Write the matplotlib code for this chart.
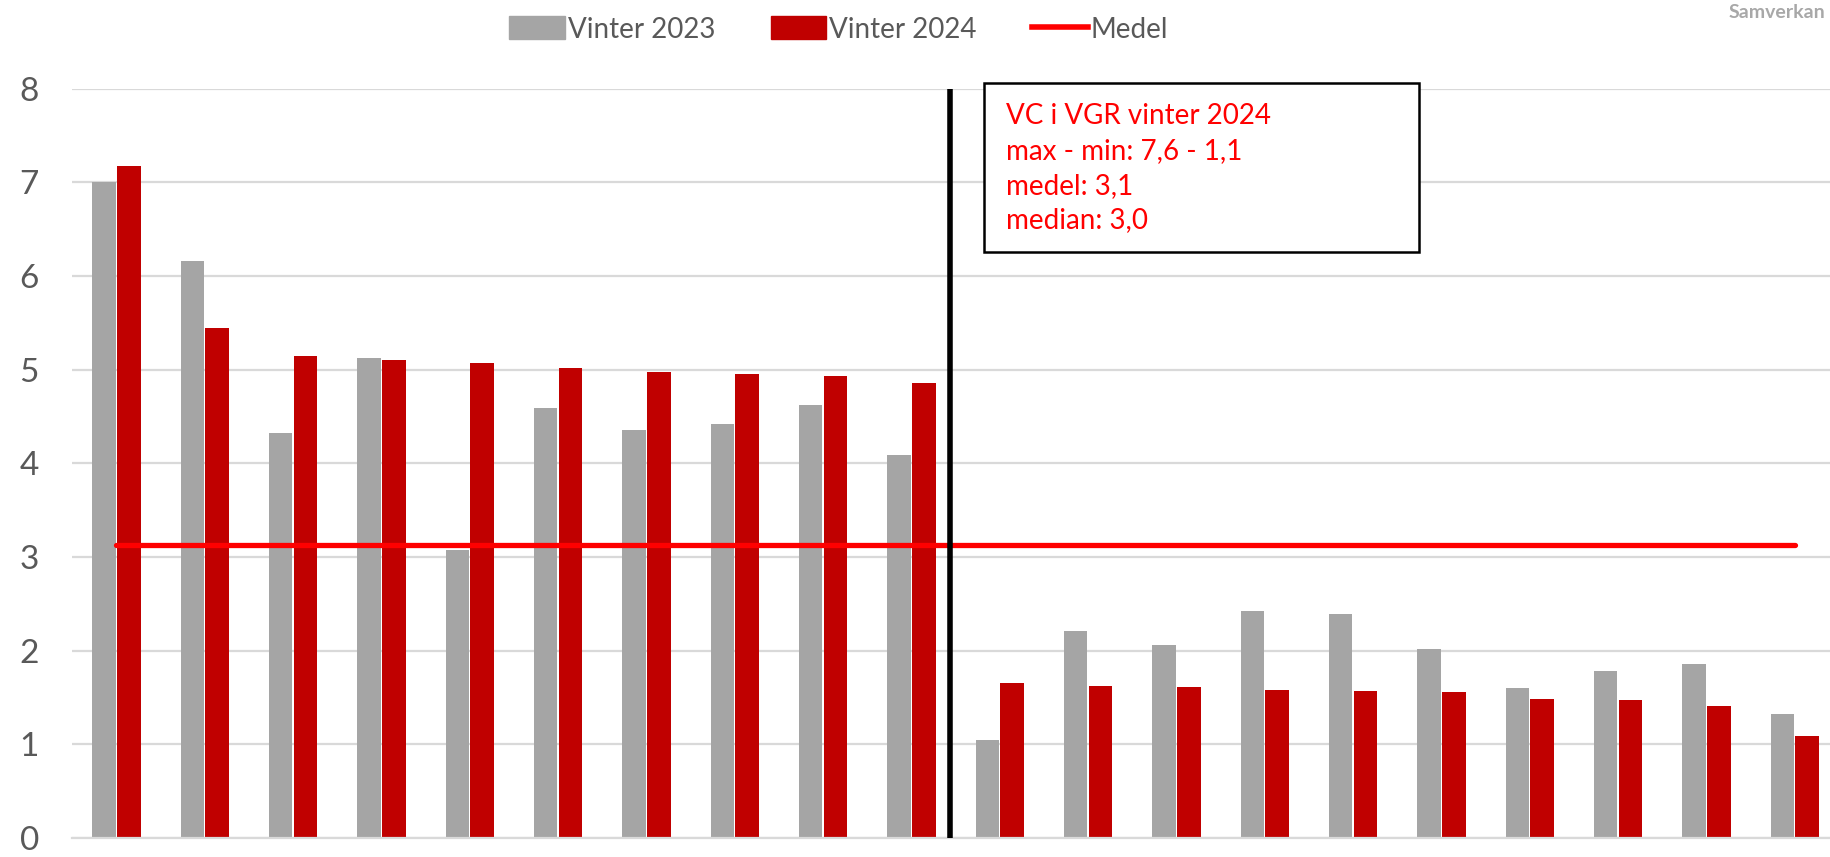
import numpy as np
import matplotlib.pyplot as plt
from matplotlib.patches import Patch, Rectangle
from matplotlib.lines import Line2D

plt.rcParams['font.family'] = ['Lato', 'DejaVu Sans']

vinter_2023 = [7.00, 6.16, 4.32, 5.13, 3.08, 4.59, 4.36, 4.42, 4.62, 4.09,
               1.05, 2.21, 2.06, 2.42, 2.39, 2.02, 1.60, 1.78, 1.86, 1.33]
vinter_2024 = [7.18, 5.45, 5.15, 5.10, 5.07, 5.02, 4.98, 4.95, 4.93, 4.86,
               1.66, 1.62, 1.61, 1.58, 1.57, 1.56, 1.48, 1.47, 1.41, 1.09]
medel = [3.13] * 20
split_pos = 9.44
box_lines = ['VC i VGR vinter 2024', 'max - min: 7,6 - 1,1', 'medel: 3,1', 'median: 3,0']

GRAY = '#a5a5a5'
RED = '#c00000'
LINE = '#ff0000'
TXT = '#595959'

x = np.arange(len(vinter_2023))
w = 0.265

fig = plt.figure(figsize=(18.31, 8.57), dpi=100)
ax = fig.add_axes([0.0395, 0.022, 0.9605, 0.8745])

ax.bar(x - 0.14, vinter_2023, width=w, color=GRAY, zorder=2)
ax.bar(x + 0.14, vinter_2024, width=w, color=RED, zorder=2)
ax.plot(x, medel, color=LINE, linewidth=3.8, solid_capstyle='round', zorder=4)
ax.plot([split_pos, split_pos], [0, 8], color='black', linewidth=4.0, zorder=5)

ax.set_ylim(0, 8)
ax.set_xlim(-0.5, 19.41)
ax.set_yticks(range(0, 9))
ax.yaxis.grid(True, color='#d9d9d9', linewidth=1.6, zorder=0)
ax.set_axisbelow(True)
for s in ['top', 'right', 'left']:
    ax.spines[s].set_visible(False)
ax.spines['bottom'].set_color('#d9d9d9')
ax.spines['bottom'].set_linewidth(1.6)
ax.set_xticks([])
ax.tick_params(axis='y', length=0, labelsize=24, labelcolor=TXT, pad=24)
ax.patch.set_alpha(0)

# annotation box (figure pixel coords -> figure fraction)
W, H = 1831, 857
box = Rectangle((984 / W, 1 - 252 / H), (1419 - 984) / W, (252 - 83) / H,
                transform=fig.transFigure, facecolor='white', edgecolor='black',
                linewidth=1.8, zorder=6)
fig.add_artist(box)
fig.text(1006 / W, 1 - 103 / H, '\n'.join(box_lines), ha='left', va='top',
         fontsize=20, color='#ff0000', linespacing=1.42, zorder=7)

handles = [Patch(color=GRAY, label='Vinter 2023'),
           Patch(color=RED, label='Vinter 2024'),
           Line2D([0], [0], color=LINE, linewidth=4, label='Medel')]
fig.legend(handles=handles, loc='upper center', bbox_to_anchor=(0.458, 1.01), ncol=3,
           frameon=False, fontsize=20, labelcolor=TXT, handlelength=2.0, handleheight=0.9,
           handletextpad=0.1, columnspacing=2.0)

fig.text(0.997, 0.995, 'Samverkan', ha='right', va='top', fontsize=14,
         color='#a8a8a8', fontweight='bold')

fig.savefig('out.png', dpi=100)
